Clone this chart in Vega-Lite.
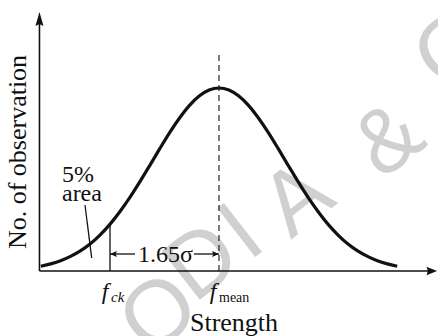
{
  "$schema": "https://vega.github.io/schema/vega-lite/v6.json",
  "width": 438,
  "height": 336,
  "padding": 0,
  "autosize": {"type": "none"},
  "background": "white",
  "config": {"view": {"stroke": null}},
  "encoding": {
    "x": {"field": "x", "type": "quantitative", "scale": {"domain": [-3.318, 3.318], "nice": false, "zero": false}, "axis": null},
    "y": {"field": "y", "type": "quantitative", "scale": {"domain": [-0.3552, 1.4809], "nice": false, "zero": false}, "axis": null}
  },
  "layer": [
    {
      "data": {"values": [
        {"x": -0.894, "y": -0.240, "t": "O"},
        {"x": -0.242, "y": 0.044, "t": "D"},
        {"x": 0.348, "y": 0.208, "t": "I"},
        {"x": 1.197, "y": 0.388, "t": "A"},
        {"x": 2.576, "y": 0.710, "t": "&"},
        {"x": 3.530, "y": 1.197, "t": "C"}
      ]},
      "mark": {"type": "text", "font": "Liberation Sans", "fontSize": 90, "angle": 322, "align": "center", "baseline": "middle", "color": "#d0d0d0"},
      "encoding": {"text": {"field": "t"}}
    },
    {
      "data": {"values": [
        {"x": -2.7, "y": 0.026}, {"x": -2.55, "y": 0.039}, {"x": -2.4, "y": 0.056}, {"x": -2.25, "y": 0.080},
        {"x": -2.1, "y": 0.110}, {"x": -1.95, "y": 0.149}, {"x": -1.8, "y": 0.198}, {"x": -1.65, "y": 0.256},
        {"x": -1.5, "y": 0.325}, {"x": -1.35, "y": 0.402}, {"x": -1.2, "y": 0.487}, {"x": -1.05, "y": 0.576},
        {"x": -0.9, "y": 0.667}, {"x": -0.75, "y": 0.755}, {"x": -0.6, "y": 0.835}, {"x": -0.45, "y": 0.904},
        {"x": -0.3, "y": 0.956}, {"x": -0.15, "y": 0.989}, {"x": 0, "y": 1.000}, {"x": 0.15, "y": 0.989},
        {"x": 0.3, "y": 0.956}, {"x": 0.45, "y": 0.904}, {"x": 0.6, "y": 0.835}, {"x": 0.75, "y": 0.755},
        {"x": 0.9, "y": 0.667}, {"x": 1.05, "y": 0.576}, {"x": 1.2, "y": 0.487}, {"x": 1.35, "y": 0.402},
        {"x": 1.5, "y": 0.325}, {"x": 1.65, "y": 0.256}, {"x": 1.8, "y": 0.198}, {"x": 1.95, "y": 0.149},
        {"x": 2.1, "y": 0.110}, {"x": 2.25, "y": 0.080}, {"x": 2.4, "y": 0.056}, {"x": 2.55, "y": 0.039},
        {"x": 2.7, "y": 0.026}
      ]},
      "mark": {"type": "line", "interpolate": "monotone", "color": "#111111", "strokeWidth": 3.2}
    },
    {
      "data": {"values": [
        {"x": -2.720, "y": 0, "x2": -2.720, "y2": 1.3497},
        {"x": -2.720, "y": 0, "x2": 3.182, "y2": 0}
      ]},
      "mark": {"type": "rule", "color": "#111111", "strokeWidth": 1.6},
      "encoding": {"x2": {"field": "x2"}, "y2": {"field": "y2"}}
    },
    {
      "data": {"values": [
        {"x": -1.6515, "y": 0, "x2": -1.6515, "y2": 0.2563},
        {"x": -1.6515, "y": 0.0929, "x2": -1.2727, "y2": 0.0929},
        {"x": -0.3788, "y": 0.0929, "x2": 0, "y2": 0.0929},
        {"x": -2.0303, "y": 0.3607, "x2": -1.9288, "y2": 0.0710}
      ]},
      "mark": {"type": "rule", "color": "#111111", "strokeWidth": 1.3},
      "encoding": {"x2": {"field": "x2"}, "y2": {"field": "y2"}}
    },
    {
      "data": {"values": [{"x": 0, "y": 0, "y2": 1.1803}]},
      "mark": {"type": "rule", "color": "#111111", "strokeWidth": 1.1, "strokeDash": [6, 4]},
      "encoding": {"y2": {"field": "y2"}}
    },
    {
      "data": {"values": [
        {"x": -2.720, "y": 1.3770, "dir": "yaxis"},
        {"x": 3.197, "y": 0, "dir": "xaxis"},
        {"x": -1.5455, "y": 0.0929, "dir": "left"},
        {"x": -0.1061, "y": 0.0929, "dir": "right"}
      ]},
      "mark": {"type": "point", "filled": true, "opacity": 1, "color": "#111111", "size": 196, "strokeWidth": 0},
      "encoding": {
        "shape": {"field": "dir", "type": "nominal", "legend": null, "scale": {
          "domain": ["yaxis", "xaxis", "left", "right"],
          "range": ["M0,-1L0.57,1L0,0.7L-0.57,1Z", "M1,0L-0.5,0.62L-0.3,0L-0.5,-0.62Z", "M-1,0L0,0.43L-0.2,0L0,-0.43Z", "M1,0L0,0.43L0.2,0L0,-0.43Z"]
        }}
      }
    },
    {
      "data": {"values": [
        {"x": -2.379, "y": 0.4863, "t": "5%"},
        {"x": -2.379, "y": 0.3825, "t": "area"},
        {"x": -1.227, "y": 0.0492, "t": "1.65σ"}
      ]},
      "mark": {"type": "text", "font": "Liberation Serif", "fontSize": 24, "align": "left", "baseline": "alphabetic", "color": "#111111"},
      "encoding": {"text": {"field": "t"}}
    },
    {
      "data": {"values": [
        {"x": -1.727, "y": -0.1530, "t": "f"},
        {"x": -0.0909, "y": -0.1530, "t": "f"}
      ]},
      "mark": {"type": "text", "font": "Liberation Serif", "fontStyle": "italic", "fontSize": 24, "align": "center", "baseline": "alphabetic", "color": "#111111"},
      "encoding": {"text": {"field": "t"}}
    },
    {
      "data": {"values": [{"x": -1.636, "y": -0.1694, "t": "ck"}]},
      "mark": {"type": "text", "font": "Liberation Serif", "fontStyle": "italic", "fontSize": 15, "align": "left", "baseline": "alphabetic", "color": "#111111"},
      "encoding": {"text": {"field": "t"}}
    },
    {
      "data": {"values": [{"x": 0, "y": -0.1694, "t": "mean"}]},
      "mark": {"type": "text", "font": "Liberation Serif", "fontSize": 14, "align": "left", "baseline": "alphabetic", "color": "#111111"},
      "encoding": {"text": {"field": "t"}}
    },
    {
      "data": {"values": [{"x": 0.2273, "y": -0.3279, "t": "Strength"}]},
      "mark": {"type": "text", "font": "Liberation Serif", "fontSize": 26, "align": "center", "baseline": "alphabetic", "color": "#111111"},
      "encoding": {"text": {"field": "t"}}
    },
    {
      "data": {"values": [{"x": -2.924, "y": 0.6503, "t": "No. of observation"}]},
      "mark": {"type": "text", "font": "Liberation Serif", "fontSize": 26, "angle": 270, "align": "center", "baseline": "alphabetic", "color": "#111111"},
      "encoding": {"text": {"field": "t"}}
    }
  ]
}
